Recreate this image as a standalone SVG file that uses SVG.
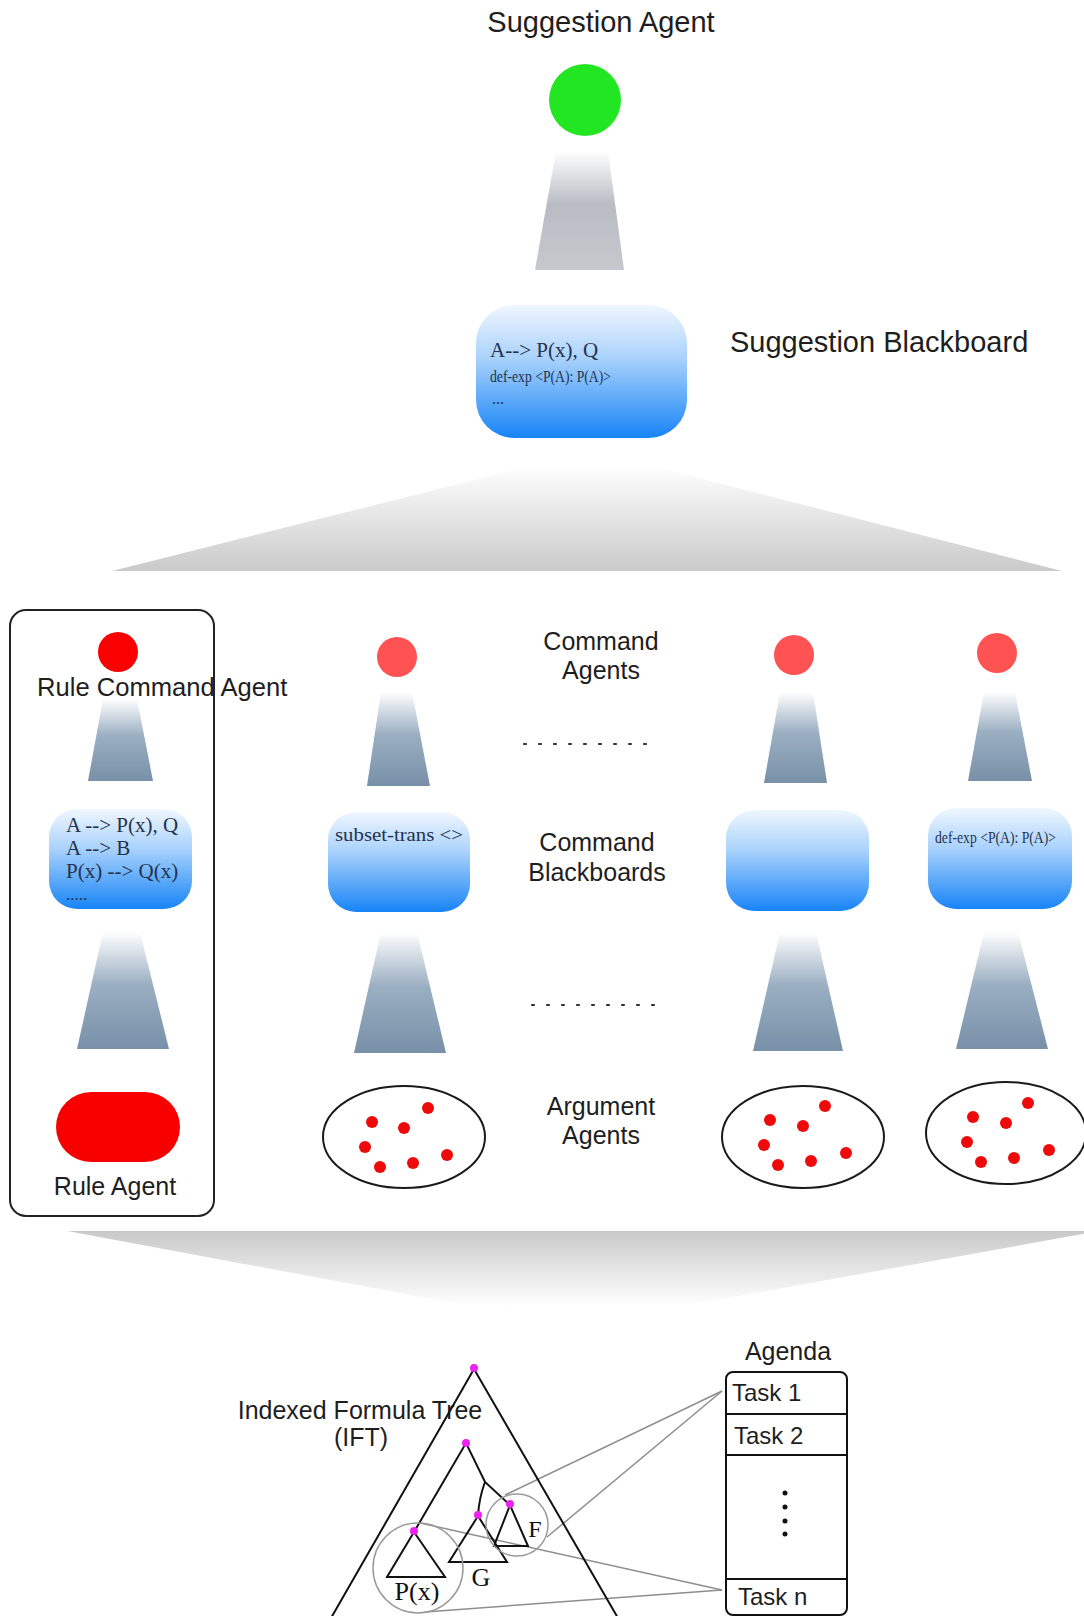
<svg xmlns="http://www.w3.org/2000/svg" width="1084" height="1616" viewBox="0 0 1084 1616">
  <defs>
    <linearGradient id="beamGray" x1="0" y1="0" x2="0" y2="1">
      <stop offset="0" stop-color="#ffffff"/>
      <stop offset="0.45" stop-color="#b9bcc3"/>
      <stop offset="1" stop-color="#c6c8cd"/>
    </linearGradient>
    <linearGradient id="beamSteel" x1="0" y1="0" x2="0" y2="1">
      <stop offset="0" stop-color="#ffffff"/>
      <stop offset="0.45" stop-color="#9bafc2"/>
      <stop offset="1" stop-color="#7890a8"/>
    </linearGradient>
    <linearGradient id="fanDown" x1="0" y1="0" x2="0" y2="1">
      <stop offset="0" stop-color="#ffffff"/>
      <stop offset="1" stop-color="#cacaca"/>
    </linearGradient>
    <linearGradient id="fanUp" x1="0" y1="0" x2="0" y2="1">
      <stop offset="0" stop-color="#c9c9c9"/>
      <stop offset="1" stop-color="#ffffff"/>
    </linearGradient>
    <linearGradient id="board" x1="0" y1="0" x2="0" y2="1">
      <stop offset="0" stop-color="#f0f7ff"/>
      <stop offset="0.4" stop-color="#a9d2fc"/>
      <stop offset="1" stop-color="#1784f7"/>
    </linearGradient>
  </defs>
  <style>
    .sans { font-family: "Liberation Sans", Arial, sans-serif; fill: #1e1e1e; }
    .serif { font-family: "Liberation Serif", "Times New Roman", serif; fill: #24324d; }
    .label { font-size: 25px; text-anchor: middle; }
    .title { font-size: 29px; }
    .bb { fill: url(#board); }
    .agent { fill: #ff5252; }
    .dot { fill: #ee0a0a; }
    .pool { fill: #ffffff; stroke: #1a1a1a; stroke-width: 2; }
    .steel { fill: url(#beamSteel); }
    .tree { fill: none; stroke: #111; stroke-width: 2; }
    .node { fill: #ee22ee; }
    .ring { fill: none; stroke: #9a9a9a; stroke-width: 1.5; }
    .link { stroke: #8e8e8e; stroke-width: 1.5; }
    .ellipsis { stroke: #333; stroke-width: 2.2; stroke-dasharray: 2 13; stroke-linecap: round; }
    .mark { font-family: "Liberation Serif", "Times New Roman", serif; fill: #111; text-anchor: middle; }
  </style>

  <rect width="1084" height="1616" fill="#ffffff"/>

  <!-- beams linking the levels -->
  <g id="connectors">
    <polygon points="556,151 608,151 624,270 535,270" fill="url(#beamGray)"/>
    <polygon points="530,466 652,466 1062,571 112,571" fill="url(#fanDown)"/>
    <polygon points="103,699 137,699 153,781 88,781" class="steel"/>
    <polygon points="103,932 140,932 169,1049 77,1049" class="steel"/>
    <polygon points="381,692 412,692 430,786 367,786" class="steel"/>
    <polygon points="381,932 417,932 446,1053 354,1053" class="steel"/>
    <polygon points="780,692 813,692 827,783 764,783" class="steel"/>
    <polygon points="780,932 816,932 843,1051 753,1051" class="steel"/>
    <polygon points="984,692 1015,692 1032,781 968,781" class="steel"/>
    <polygon points="984,932 1018,932 1048,1049 956,1049" class="steel"/>
    <polygon points="67,1231 1100,1231 682,1306 470,1306" fill="url(#fanUp)"/>
    <!-- agenda tasks pointing into the tree -->
    <line x1="722" y1="1391" x2="505" y2="1495" class="link"/>
    <line x1="722" y1="1391" x2="547" y2="1537" class="link"/>
    <line x1="722" y1="1590" x2="420" y2="1523" class="link"/>
    <line x1="722" y1="1590" x2="425" y2="1612" class="link"/>
  </g>

  <g id="suggestion-agent">
    <text x="601" y="32" class="sans title" text-anchor="middle">Suggestion Agent</text>
    <circle cx="585" cy="100" r="36" fill="#22e622"/>
  </g>

  <g id="suggestion-blackboard">
    <rect x="476" y="305" width="211" height="133" rx="38" class="bb"/>
    <text x="490" y="357" class="serif" font-size="21">A--&gt; P(x), Q</text>
    <text x="490" y="382" class="serif" font-size="16" textLength="121" lengthAdjust="spacingAndGlyphs">def-exp &lt;P(A): P(A)&gt;</text>
    <text x="492" y="404" class="serif" font-size="16">...</text>
    <text x="730" y="352" class="sans title">Suggestion Blackboard</text>
  </g>

  <g id="rule-group">
    <rect x="10" y="610" width="204" height="606" rx="16" fill="none" stroke="#222" stroke-width="2"/>
  </g>

  <g id="rule-command-agent">
    <circle cx="118" cy="652" r="20" fill="#fa0000"/>
    <text x="37" y="696" class="sans" font-size="25.6">Rule Command Agent</text>
  </g>

  <g id="rule-blackboard">
    <rect x="49" y="809" width="143" height="100" rx="28" class="bb"/>
    <text x="66" y="832" class="serif" font-size="21">A --&gt; P(x), Q</text>
    <text x="66" y="855" class="serif" font-size="21">A --&gt; B</text>
    <text x="66" y="878" class="serif" font-size="21">P(x) --&gt; Q(x)</text>
    <text x="66" y="900" class="serif" font-size="17">.....</text>
  </g>

  <g id="rule-agent">
    <rect x="56" y="1092" width="124" height="70" rx="35" fill="#f80000"/>
    <text x="115" y="1195" class="sans label">Rule Agent</text>
  </g>

  <g id="command-agent-1">
    <circle cx="397" cy="657" r="20" class="agent"/>
  </g>
  <g id="command-blackboard-1">
    <rect x="328" y="812" width="142" height="100" rx="28" class="bb"/>
    <text x="335" y="841" class="serif" font-size="19" textLength="128" lengthAdjust="spacingAndGlyphs">subset-trans &lt;&gt;</text>
  </g>
  <g id="argument-agents-1">
    <ellipse cx="404" cy="1137" rx="81" ry="51" class="pool"/>
    <circle cx="428" cy="1108" r="6" class="dot"/>
    <circle cx="372" cy="1122" r="6" class="dot"/>
    <circle cx="404" cy="1128" r="6" class="dot"/>
    <circle cx="365" cy="1147" r="6" class="dot"/>
    <circle cx="380" cy="1167" r="6" class="dot"/>
    <circle cx="413" cy="1163" r="6" class="dot"/>
    <circle cx="447" cy="1155" r="6" class="dot"/>
  </g>

  <g id="command-agent-2">
    <circle cx="794" cy="655" r="20" class="agent"/>
  </g>
  <g id="command-blackboard-2">
    <rect x="726" y="810" width="143" height="101" rx="28" class="bb"/>
  </g>
  <g id="argument-agents-2">
    <ellipse cx="803" cy="1137" rx="81" ry="51" class="pool"/>
    <circle cx="825" cy="1106" r="6" class="dot"/>
    <circle cx="770" cy="1120" r="6" class="dot"/>
    <circle cx="803" cy="1126" r="6" class="dot"/>
    <circle cx="764" cy="1145" r="6" class="dot"/>
    <circle cx="778" cy="1165" r="6" class="dot"/>
    <circle cx="811" cy="1161" r="6" class="dot"/>
    <circle cx="846" cy="1153" r="6" class="dot"/>
  </g>

  <g id="command-agent-3">
    <circle cx="997" cy="653" r="20" class="agent"/>
  </g>
  <g id="command-blackboard-3">
    <rect x="928" y="808" width="144" height="101" rx="28" class="bb"/>
    <text x="935" y="843" class="serif" font-size="16" textLength="121" lengthAdjust="spacingAndGlyphs">def-exp &lt;P(A): P(A)&gt;</text>
  </g>
  <g id="argument-agents-3">
    <ellipse cx="1006" cy="1133" rx="80" ry="51" class="pool"/>
    <circle cx="1028" cy="1103" r="6" class="dot"/>
    <circle cx="973" cy="1117" r="6" class="dot"/>
    <circle cx="1006" cy="1123" r="6" class="dot"/>
    <circle cx="967" cy="1142" r="6" class="dot"/>
    <circle cx="981" cy="1162" r="6" class="dot"/>
    <circle cx="1014" cy="1158" r="6" class="dot"/>
    <circle cx="1049" cy="1150" r="6" class="dot"/>
  </g>

  <g id="level-labels">
    <text x="601" y="650" class="sans label">Command</text>
    <text x="601" y="679" class="sans label">Agents</text>
    <line x1="524" y1="744" x2="647" y2="744" class="ellipsis"/>
    <text x="597" y="851" class="sans label">Command</text>
    <text x="597" y="881" class="sans label">Blackboards</text>
    <line x1="532" y1="1005" x2="655" y2="1005" class="ellipsis"/>
    <text x="601" y="1115" class="sans label">Argument</text>
    <text x="601" y="1144" class="sans label">Agents</text>
  </g>

  <g id="formula-tree">
    <text x="360" y="1419" class="sans label" font-size="24">Indexed Formula Tree</text>
    <text x="361" y="1446" class="sans label" font-size="24">(IFT)</text>
    <polyline points="327,1625 474,1369 622,1625" class="tree"/>
    <polyline points="414,1532 466,1443 485,1482 510,1505" class="tree"/>
    <path d="M485,1482 Q479,1498 478,1516" class="tree"/>
    <polygon points="414,1532 387,1577 445,1577" class="tree"/>
    <polygon points="478,1516 449,1562 507,1562" class="tree"/>
    <polygon points="510,1505 494,1546 528,1546" class="tree"/>
    <circle cx="418" cy="1568" r="45" class="ring"/>
    <circle cx="517" cy="1525" r="31" class="ring"/>
    <circle cx="474" cy="1368" r="4" class="node"/>
    <circle cx="466" cy="1443" r="4" class="node"/>
    <circle cx="414" cy="1531" r="4" class="node"/>
    <circle cx="478" cy="1515" r="4" class="node"/>
    <circle cx="510" cy="1504" r="4" class="node"/>
    <text x="417" y="1600" class="mark" font-size="26">P(x)</text>
    <text x="481" y="1586" class="mark" font-size="26">G</text>
    <text x="535" y="1537" class="mark" font-size="24">F</text>
  </g>

  <g id="agenda">
    <text x="788" y="1360" class="sans label" font-size="24">Agenda</text>
    <rect x="726" y="1372" width="121" height="243" rx="7" fill="#fff" stroke="#111" stroke-width="2"/>
    <line x1="726" y1="1414" x2="847" y2="1414" stroke="#111" stroke-width="2"/>
    <line x1="726" y1="1455" x2="847" y2="1455" stroke="#111" stroke-width="2"/>
    <line x1="726" y1="1579" x2="847" y2="1579" stroke="#111" stroke-width="2"/>
    <text x="732" y="1401" class="sans" font-size="24">Task 1</text>
    <text x="734" y="1444" class="sans" font-size="24">Task 2</text>
    <text x="738" y="1605" class="sans" font-size="24">Task n</text>
    <circle cx="785" cy="1493" r="2.5" fill="#111"/>
    <circle cx="785" cy="1507" r="2.5" fill="#111"/>
    <circle cx="785" cy="1521" r="2.5" fill="#111"/>
    <circle cx="785" cy="1534" r="2.5" fill="#111"/>
  </g>
</svg>
